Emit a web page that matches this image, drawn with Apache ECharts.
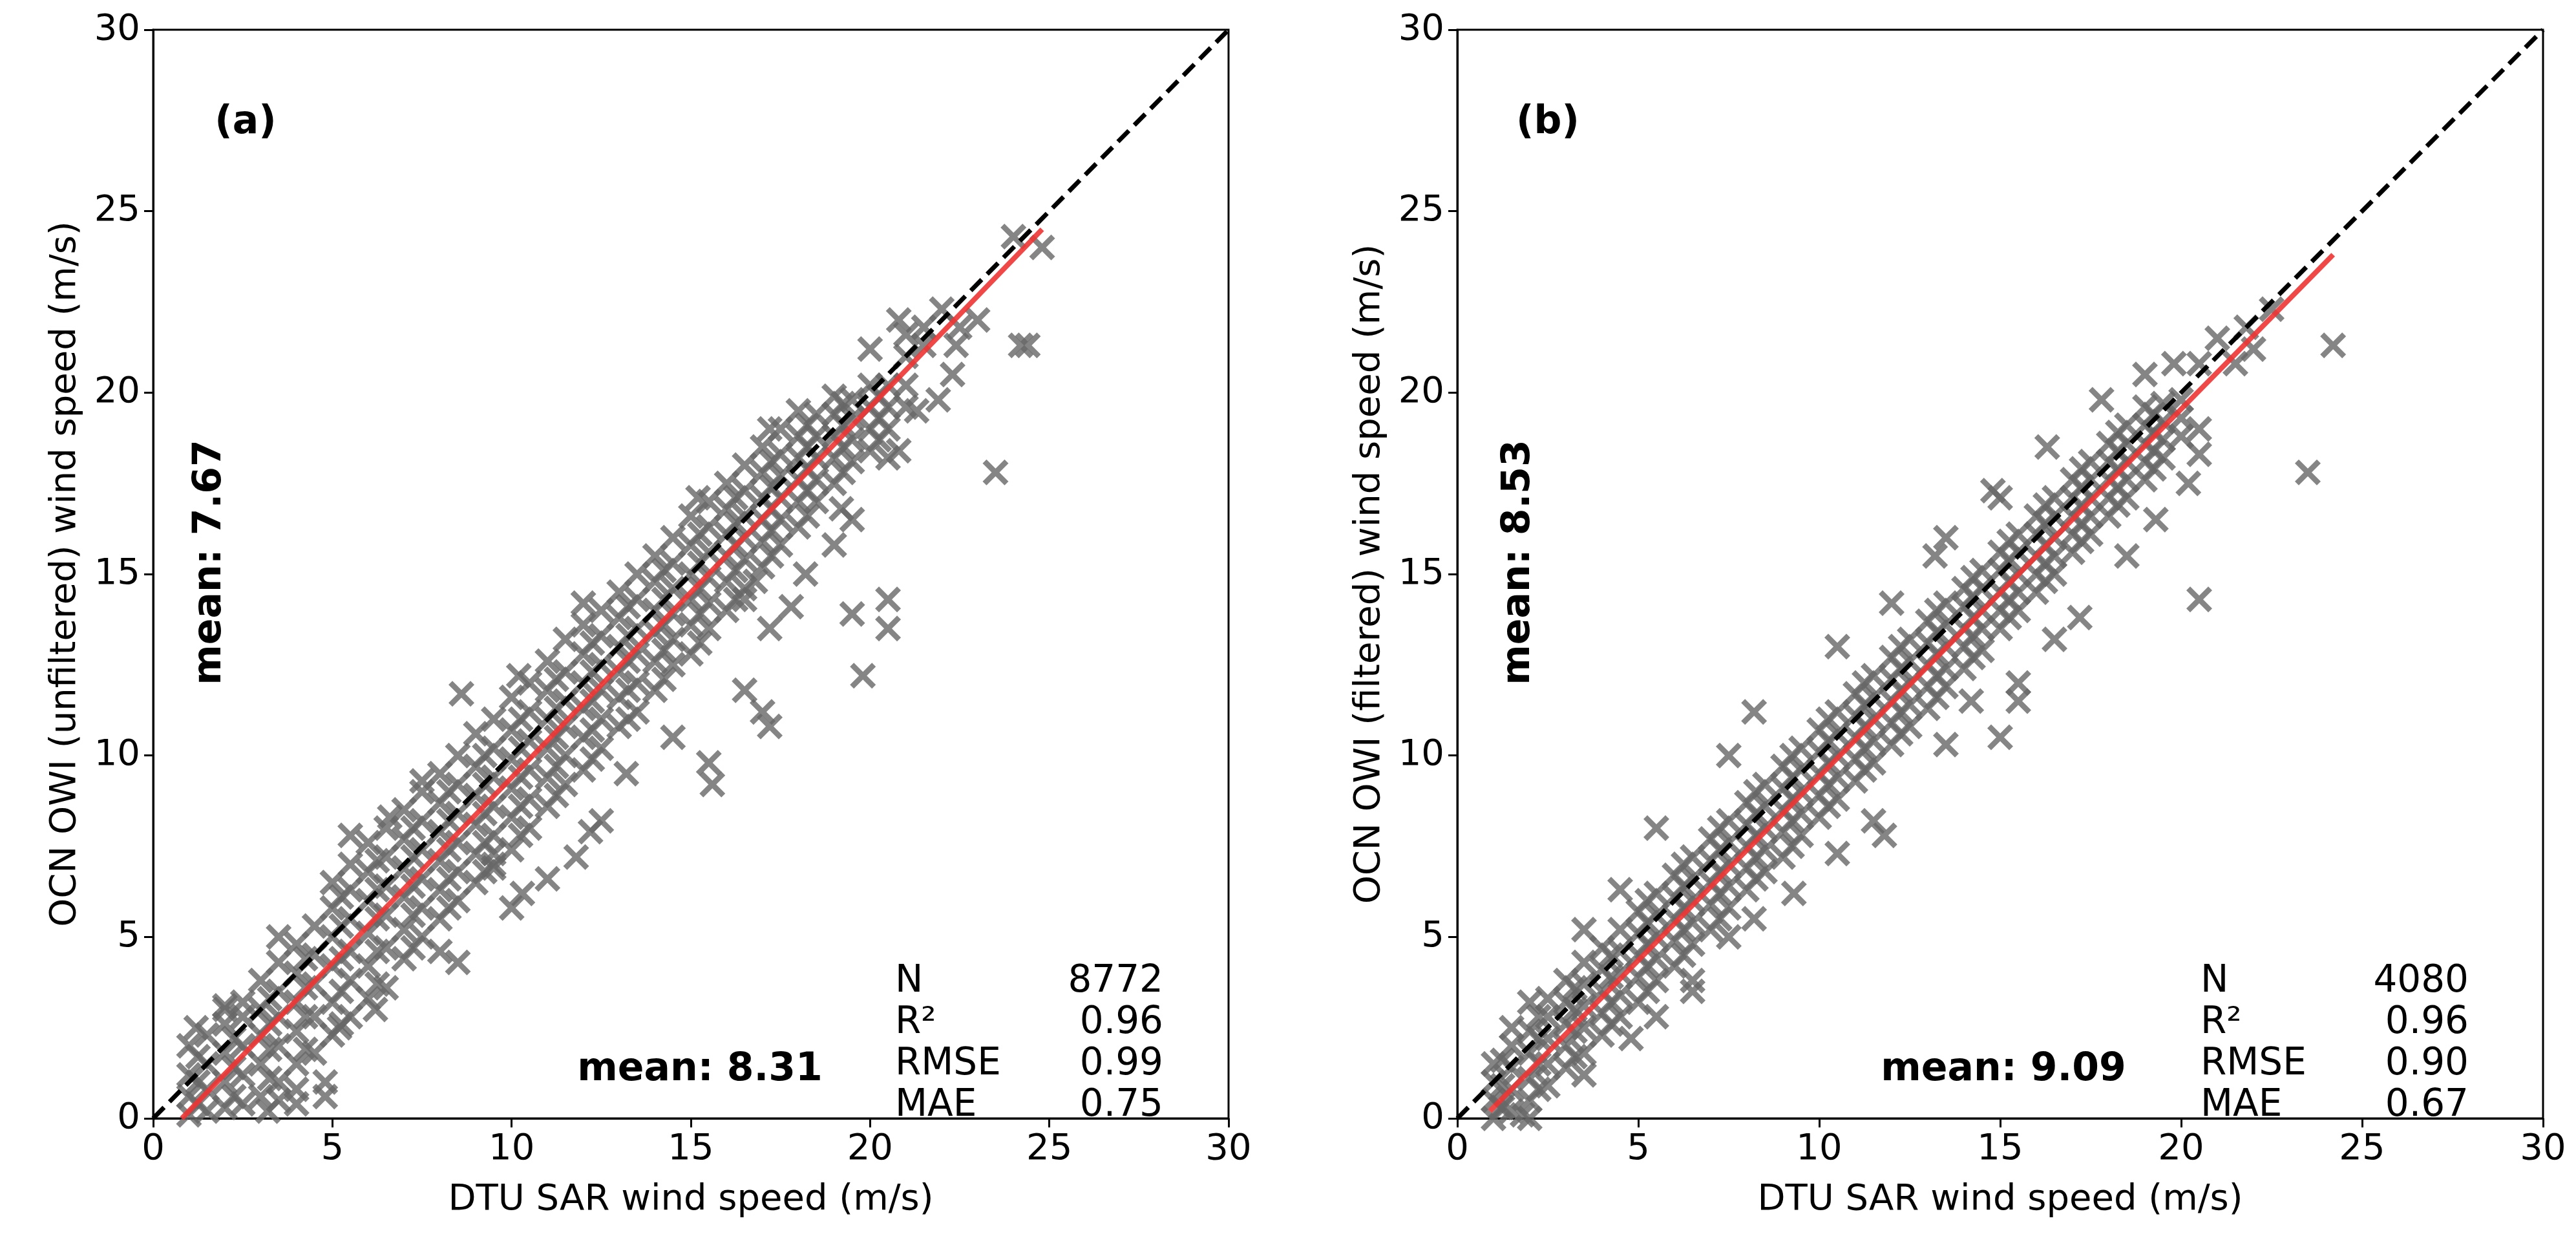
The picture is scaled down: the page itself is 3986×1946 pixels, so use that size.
<!DOCTYPE html>
<html>
<head>
<meta charset="utf-8">
<script src="https://cdn.jsdelivr.net/npm/echarts@6/dist/echarts.min.js"></script>
<style>html,body{margin:0;padding:0;background:#fff}#chart{width:3986px;height:1946px}</style>
</head>
<body>
<div id="chart"></div>
<script>
// ticks
var ticks = [0, 5, 10, 15, 20, 25, 30];

// panel (a) cloud: [x, [y values]]
var aCols = [
  [1,[0.1,0.6,1.2,2.0]],[1.5,[0.2,0.8,1.5,2.3]],[2,[0.3,1.0,1.8,2.6,3.0]],[2.5,[0.4,1.2,2.0,2.8,3.2]],
  [3,[0.6,1.5,2.3,3.0,3.8]],[3.5,[0.5,1.0,2.0,2.8,3.5,4.3]],[4,[0.8,1.5,2.4,3.2,4.0,4.8]],[4.5,[1.8,2.8,3.7,4.5,5.3]],
  [5,[2.3,3.2,4.2,5.0,5.8,6.5]],[5.5,[2.8,3.8,4.6,5.5,6.3,7.0]],[6,[3.3,4.2,5.1,6.0,6.8,7.6]],[6.5,[3.6,4.7,5.6,6.4,7.2,8.0]],
  [7,[4.4,5.2,6.1,6.9,7.7,8.5]],[7.5,[5.0,5.8,6.6,7.4,8.2,9.0]],[8,[5.5,6.3,7.1,7.9,8.7,9.5]],[8.5,[6.0,6.8,7.6,8.4,9.2,10.0]],
  [9,[6.5,7.3,8.1,8.9,9.7,10.6]],[9.5,[7.0,7.8,8.6,9.4,10.2,11.0]],[10,[7.4,8.3,9.1,9.9,10.7,11.6]],[10.5,[8.0,8.8,9.6,10.4,11.2,12.0]],
  [11,[8.6,9.4,10.2,11.0,11.8,12.6]],[11.5,[9.2,10.0,10.8,11.5,12.3,13.2]],[12,[9.6,10.5,11.3,12.0,12.8,13.6]],[12.5,[10.2,11.0,11.8,12.5,13.3,14.0]],
  [13,[10.8,11.6,12.3,13.0,13.8,14.5]],[13.5,[11.2,12.0,12.8,13.5,14.3,15.0]],[14,[11.8,12.6,13.4,14.0,14.8,15.5]],[14.5,[12.5,13.2,13.9,14.6,15.3,16.0]],
  [15,[12.8,13.6,14.3,15.0,15.8,16.6]],[15.5,[13.5,14.2,14.9,15.6,16.3,17.0]],[16,[14.0,14.8,15.5,16.1,16.8,17.5]],[16.5,[14.6,15.4,16.0,16.6,17.3,18.0]],
  [17,[15.2,15.9,16.5,17.1,17.8,18.5]],[17.5,[15.8,16.5,17.1,17.7,18.3,19.0]],[18,[16.3,17.0,17.6,18.2,18.8,19.5]],[18.5,[17.0,17.6,18.2,18.8,19.4]],
  [19,[17.5,18.2,18.8,19.4,19.9]],[19.5,[18.1,18.7,19.3,19.8]],[20,[18.4,19.0,19.6,20.2,21.2]],[20.5,[19.0,19.6,20.2]],[21,[19.6,20.2,21.0,21.6]],
  [1.25,[0.4,1.0,1.7]],[2.25,[0.6,1.4,2.2]],[3.25,[1.1,1.9,2.6,3.3]],[4.25,[1.9,2.8,3.6,4.4]],[5.25,[2.6,3.5,4.4,5.3,6.1]],
  [6.25,[3.7,4.6,5.5,6.3,7.1]],[7.25,[4.7,5.6,6.4,7.2,8.0]],[8.25,[5.8,6.6,7.4,8.2,9.0]],[9.25,[6.8,7.6,8.4,9.2,10.0]],
  [10.25,[7.8,8.6,9.4,10.2,11.0]],[11.25,[8.9,9.7,10.5,11.3,12.1]],[12.25,[9.9,10.7,11.5,12.3,13.1]],[13.25,[11.0,11.8,12.6,13.3,14.1]],
  [14.25,[12.1,12.9,13.6,14.3,15.1]],[15.25,[13.1,13.9,14.6,15.3,16.1]],[16.25,[14.3,15.1,15.8,16.4,17.1]],[17.25,[15.5,16.2,16.8,17.4,18.1]],
  [18.25,[16.6,17.3,17.9,18.5,19.1]],[19.25,[17.8,18.5,19.1,19.7]],[20.25,[18.7,19.3,19.9]]
];
var aOutliers = [[21.5,21.3],[22,22.3],[22.5,21.8],[22.4,21.3],[21.3,19.5],[21.9,19.8],[22.3,20.5],[20.5,18.2],[20.8,18.4],[19.5,16.5],
  [19.2,16.8],[19.0,15.8],[18.2,15.0],[17.8,14.1],[16.8,14.8],[16.5,14.3],[17.2,13.5],[16.5,11.8],[17,11.2],[17.2,10.8],[15.5,9.8],
  [15.6,9.2],[14.5,10.5],[13.2,9.5],[12.5,8.2],[12.2,7.9],[11.8,7.2],[11,6.6],[10.3,6.2],[10,5.8],[9.5,7.3],[9.5,6.9],[8.5,4.3],[8,4.6],
  [6.2,3.0],[5.2,2.5],[4.8,1.0],[4.8,0.6],[4,0.4],[3.2,0.2],[19.8,12.2],[20.5,13.5],[20.5,14.3],[19.5,13.9],[23.5,17.8],[24.2,21.3],
  [24.4,21.3],[24.8,24.0],[24.0,24.3],[23.0,22.0],[21.5,21.8],[20.8,22.0],[17.2,19.0],[15.2,17.1],[12,14.2],[10.2,12.2],[8.6,11.7],
  [7.5,9.3],[6.6,8.3],[5.5,7.8],[3.5,5.0],[2,3.1],[1.2,2.5]];
var aFit = [[0.8,0],[24.8,24.5]];

// panel (b) cloud
var bCols = [
  [1,[0.0,0.5,1.0,1.5]],[1.5,[0.2,0.8,1.4,2.0]],[2,[0.5,1.1,1.8,2.4]],[2.5,[0.9,1.5,2.2,2.8,3.3]],[3,[1.4,2.0,2.6,3.2,3.8]],
  [3.5,[1.8,2.5,3.1,3.7,4.3]],[4,[2.3,2.9,3.5,4.1,4.7]],[4.5,[2.8,3.4,4.0,4.6,5.2]],[5,[3.2,3.9,4.5,5.1,5.7]],[5.5,[3.8,4.4,5.0,5.6,6.2]],
  [6,[4.2,4.9,5.5,6.1,6.7]],[6.5,[4.8,5.4,6.0,6.6,7.2]],[7,[5.2,5.9,6.5,7.1,7.7]],[7.5,[5.8,6.4,7.0,7.6,8.2]],[8,[6.3,6.9,7.5,8.1,8.7]],
  [8.5,[6.8,7.4,8.0,8.6,9.2]],[9,[7.2,7.9,8.5,9.1,9.7]],[9.5,[7.8,8.4,9.0,9.6,10.2]],[10,[8.3,8.9,9.5,10.1,10.7]],[10.5,[8.8,9.4,10.0,10.6,11.2]],
  [11,[9.3,9.9,10.5,11.1,11.7]],[11.5,[9.8,10.4,11.0,11.6,12.2]],[12,[10.3,10.9,11.5,12.1,12.7]],[12.5,[10.8,11.4,12.0,12.6,13.2]],
  [13,[11.3,11.9,12.5,13.1,13.7]],[13.5,[11.9,12.4,13.0,13.6,14.2]],[14,[12.4,13.0,13.5,14.1,14.6]],[14.5,[12.9,13.5,14.0,14.6,15.1]],
  [15,[13.5,14.0,14.5,15.1,15.6]],[15.5,[14.0,14.5,15.0,15.6,16.1]],[16,[14.5,15.0,15.5,16.1,16.6]],[16.5,[15.0,15.5,16.0,16.6,17.1]],
  [17,[15.6,16.1,16.6,17.1,17.6]],[17.5,[16.1,16.6,17.1,17.6,18.1]],[18,[16.6,17.1,17.6,18.1,18.6]],[18.5,[17.1,17.6,18.1,18.6,19.1]],
  [19,[17.6,18.1,18.6,19.1,19.6]],[19.5,[18.2,18.7,19.2,19.7]],[20,[18.8,19.3,19.8]],
  [1.25,[0.3,0.9,1.6]],[2.25,[0.8,1.5,2.2,2.8]],[3.25,[1.7,2.4,3.0,3.6]],[4.25,[2.6,3.2,3.9,4.5]],[5.25,[3.5,4.2,4.8,5.4,6.0]],
  [6.25,[4.5,5.2,5.8,6.4,7.0]],[7.25,[5.5,6.2,6.8,7.4,8.0]],[8.25,[6.6,7.2,7.8,8.4,9.0]],[9.25,[7.5,8.2,8.8,9.4,10.0]],
  [10.25,[8.6,9.2,9.8,10.4,11.0]],[11.25,[9.6,10.2,10.8,11.4,12.0]],[12.25,[10.6,11.2,11.8,12.4,13.0]],[13.25,[11.6,12.2,12.8,13.4,14.0]],
  [14.25,[12.7,13.3,13.8,14.4,14.9]],[15.25,[13.8,14.3,14.8,15.4,15.9]],[16.25,[14.8,15.3,15.8,16.4,16.9]],[17.25,[15.9,16.4,16.9,17.4,17.9]],
  [18.25,[16.9,17.4,17.9,18.4,18.9]],[19.25,[17.9,18.4,18.9,19.4]]
];
var bOutliers = [[20.5,19.0],[20.5,18.3],[20.2,17.5],[19.3,16.5],[18.5,15.5],[17.2,13.8],[16.5,13.2],[15.5,12.0],[15.5,11.5],[15,10.5],
  [13.5,10.3],[11.5,8.2],[11.8,7.8],[9.3,6.2],[8.2,5.5],[6.5,3.8],[6.5,3.5],[3.5,1.2],[1.8,0.1],[2,0.0],[1.2,0.3],[5.5,2.8],[4.8,2.2],
  [7.5,5.0],[10.5,7.3],[14.2,11.5],[20.5,14.3],[23.5,17.8],[24.2,21.3],[22.5,22.3],[21.8,21.8],[21.5,20.8],[22,21.2],[21,21.5],
  [20.5,20.8],[19.8,20.8],[19,20.5],[17.8,19.8],[16.3,18.5],[15,17.1],[13.5,16.0],[12,14.2],[10.5,13.0],[8.2,11.2],[7.5,10.0],
  [5.5,8.0],[4.5,6.3],[3.5,5.2],[2,3.2],[1.5,2.5],[14.8,17.3],[13.2,15.5]];
var bFit = [[0.9,0.2],[24.2,23.8]];
var oneToOne = [[0, 0], [30, 30]];

var aStats = [['N', '8772'], ['R²', '0.96'], ['RMSE', '0.99'], ['MAE', '0.75']];
var bStats = [['N', '4080'], ['R²', '0.96'], ['RMSE', '0.90'], ['MAE', '0.67']];

function flatten(cols, extra) {
  var out = [];
  cols.forEach(function (c) { c[1].forEach(function (y) { out.push([c[0], y]); }); });
  return out.concat(extra);
}

var FONT = 'DejaVu Sans';
var xMark = 'path://M0,3L3,0L10,7L17,0L20,3L13,10L20,17L17,20L10,13L3,20L0,17L7,10Z';

function axisCommon(i, name, gap) {
  return {
    gridIndex: i, type: 'value', min: 0, max: 30, interval: 5,
    name: name, nameLocation: 'middle', nameGap: gap,
    nameTextStyle: { fontFamily: FONT, fontSize: 56, color: '#000' },
    axisLine: { lineStyle: { color: '#000', width: 3 } },
    axisTick: { show: true, length: 14, lineStyle: { color: '#000', width: 3 } },
    axisLabel: { fontFamily: FONT, fontSize: 56, color: '#000', margin: 20 },
    splitLine: { show: false }
  };
}
function panelSeries(i, pts, fit) {
  return [
    { type: 'scatter', xAxisIndex: i, yAxisIndex: i, data: pts, symbol: xMark, symbolSize: 40,
      itemStyle: { color: '#666666' }, silent: true, z: 2 },
    { type: 'line', xAxisIndex: i, yAxisIndex: i, data: fit, symbol: 'none',
      lineStyle: { color: '#ee3333', width: 8, opacity: 0.9 }, z: 3 },
    { type: 'line', xAxisIndex: i, yAxisIndex: i, data: oneToOne, symbol: 'none',
      lineStyle: { color: '#000', width: 7, type: [24, 12] }, z: 4 }
  ];
}
function statsText(x0, x1, rows) {
  var g = [];
  rows.forEach(function (r, k) {
    var y = 1490 + k * 64;
    g.push({ type: 'text', left: x0, top: y, z: 10, style: { text: r[0], font: '58px "DejaVu Sans"', fill: '#000' } });
    g.push({ type: 'text', right: 3986 - x1, top: y, z: 10, style: { text: r[1], font: '58px "DejaVu Sans"', fill: '#000' } });
  });
  return g;
}
function bold(txt, x, y, rot) {
  return { type: 'text', x: x, y: y, rotation: rot || 0, z: 10,
    style: { text: txt, font: 'bold 60px "DejaVu Sans"', fill: '#000', align: 'center', verticalAlign: 'middle' } };
}

var chart = echarts.init(document.getElementById('chart'));
chart.setOption({
  backgroundColor: '#fff',
  animation: false,
  grid: [
    { left: 237, top: 46, width: 1664, height: 1684, show: true, borderColor: '#000', borderWidth: 3 },
    { left: 2255, top: 46, width: 1680, height: 1684, show: true, borderColor: '#000', borderWidth: 3 }
  ],
  xAxis: [axisCommon(0, 'DTU SAR wind speed (m/s)', 98), axisCommon(1, 'DTU SAR wind speed (m/s)', 98)],
  yAxis: [axisCommon(0, 'OCN OWI (unfiltered) wind speed (m/s)', 108), axisCommon(1, 'OCN OWI (filtered) wind speed (m/s)', 108)],
  series: panelSeries(0, flatten(aCols, aOutliers), aFit).concat(panelSeries(1, flatten(bCols, bOutliers), bFit)),
  graphic: [
    bold('(a)', 380, 190), bold('(b)', 2395, 190),
    bold('mean: 7.67', 325, 870, Math.PI / 2), bold('mean: 8.31', 1083, 1655),
    bold('mean: 8.53', 2350, 870, Math.PI / 2), bold('mean: 9.09', 3100, 1655)
  ].concat(statsText(1385, 1800, aStats)).concat(statsText(3405, 3820, bStats))
});
</script>
</body>
</html>
